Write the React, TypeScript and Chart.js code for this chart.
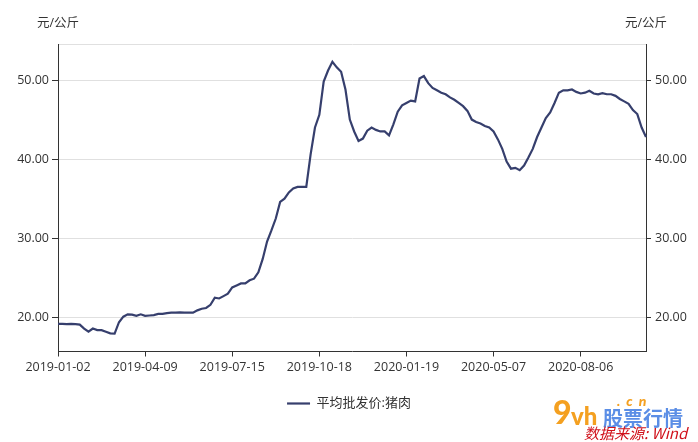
import React, { useEffect, useRef } from "react";
import { Chart, registerables } from "chart.js";

Chart.register(...registerables);

// ---- data ----
const tickDates = ["2019-01-02", "2019-04-09", "2019-07-15", "2019-10-18", "2020-01-19", "2020-05-07", "2020-08-06"];
const STEP = 20; // categories between labelled ticks
const seriesName = "平均批发价:猪肉";
const unitLabel = "元/公斤";
const yTickValues = [20, 30, 40, 50];
const Y_MIN = 15.7;
const Y_MAX = 54.55;

const priceValues = [
  19.2, 19.2, 19.15, 19.2, 19.15, 19.1, 18.6, 18.2, 18.6, 18.4,
  18.4, 18.2, 18.0, 17.95, 19.4, 20.1, 20.4, 20.35, 20.2, 20.4,
  20.2, 20.25, 20.3, 20.45, 20.45, 20.55, 20.6, 20.6, 20.65, 20.6,
  20.6, 20.6, 20.9, 21.1, 21.2, 21.6, 22.5, 22.4, 22.7, 23.0,
  23.8, 24.05, 24.3, 24.3, 24.7, 24.9, 25.7, 27.4, 29.6, 31.0,
  32.5, 34.6, 35.0, 35.8, 36.3, 36.5, 36.5, 36.5, 40.6, 44.0,
  45.6, 49.8, 51.2, 52.3, 51.6, 51.05, 48.8, 45.0, 43.5, 42.3,
  42.6, 43.6, 44.0, 43.7, 43.5, 43.5, 43.0, 44.4, 46.0, 46.8,
  47.1, 47.4, 47.3, 50.2, 50.5, 49.6, 49.0, 48.7, 48.4, 48.2,
  47.8, 47.5, 47.1, 46.7, 46.1, 45.0, 44.7, 44.5, 44.2, 44.0,
  43.5, 42.5, 41.3, 39.7, 38.8, 38.9, 38.6, 39.2, 40.2, 41.3,
  42.8, 44.0, 45.2, 45.9, 47.1, 48.4, 48.7, 48.7, 48.8, 48.5,
  48.3, 48.4, 48.65, 48.3, 48.2, 48.35, 48.2, 48.2, 48.0, 47.6,
  47.3, 47.0, 46.2, 45.7, 44.0, 42.8,
];

function buildLabels(): string[] {
  const ms = tickDates.map((d) => Date.parse(d + "T00:00:00Z"));
  const out: string[] = [];
  for (let i = 0; i < priceValues.length; i++) {
    const k = Math.min(Math.floor(i / STEP), ms.length - 2);
    const t = ms[k] + ((ms[k + 1] - ms[k]) * (i - k * STEP)) / STEP;
    out.push(new Date(t).toISOString().slice(0, 10));
  }
  return out;
}

const FONT_FAMILY = '"Open Sans", "Noto Sans CJK SC", sans-serif';
const TEXT_COLOR = "#333333";
const AXIS_COLOR = "#333333";
const GRID_COLOR = "#e0e0e0";
const LINE_COLOR = "#363f6d";

const unitPlugin = {
  id: "unitLabels",
  afterDraw(chart: any) {
    const ctx = chart.ctx;
    const { left, right } = chart.chartArea;
    ctx.save();
    ctx.font = `12.5px ${FONT_FAMILY}`;
    ctx.fillStyle = TEXT_COLOR;
    ctx.textAlign = "center";
    ctx.textBaseline = "middle";
    ctx.fillText(unitLabel, left, 23);
    ctx.fillText(unitLabel, right, 23);
    ctx.restore();
  },
};

export default function App() {
  const canvasRef = useRef<HTMLCanvasElement | null>(null);

  useEffect(() => {
    if (!canvasRef.current) return;
    const font = { family: FONT_FAMILY, size: 12.5 };
    const fmt = (v: any) => (Number(v) === Y_MAX ? "" : Number(v).toFixed(2));
    const chart = new Chart(canvasRef.current, {
      type: "line",
      data: {
        labels: buildLabels(),
        datasets: [
          {
            label: seriesName,
            data: priceValues,
            borderColor: LINE_COLOR,
            backgroundColor: LINE_COLOR,
            borderWidth: 2.2,
            pointRadius: 0,
            tension: 0,
            yAxisID: "y",
          },
        ],
      },
      options: {
        animation: false,
        responsive: false,
        maintainAspectRatio: false,
        layout: { padding: { top: 44, left: 0, right: 0, bottom: 22 } },
        plugins: {
          legend: {
            position: "bottom",
            labels: {
              usePointStyle: true,
              pointStyle: "line",
              pointStyleWidth: 23,
              boxHeight: 13,
              padding: 10,
              color: TEXT_COLOR,
              font: { family: FONT_FAMILY, size: 13 },
            },
          },
          tooltip: { enabled: false },
        },
        scales: {
          x: {
            type: "category",
            offset: false,
            grid: { display: true, drawOnChartArea: false, drawTicks: true, tickLength: 5, color: AXIS_COLOR },
            border: { display: true, color: AXIS_COLOR, width: 1 },
            ticks: { autoSkip: false, maxRotation: 0, minRotation: 0, padding: 3, color: TEXT_COLOR, font },
            afterBuildTicks: (s: any) => {
              s.ticks = s.ticks.filter((t: any) => t.value % STEP === 0);
            },
            afterFit: (s: any) => {
              s.height = 35.5;
            },
          },
          y: {
            type: "linear",
            position: "left",
            min: Y_MIN,
            max: Y_MAX,
            afterBuildTicks: (s: any) => {
              s.ticks = [...yTickValues, Y_MAX].map((v) => ({ value: v }));
            },
            ticks: { callback: fmt, padding: 3, color: TEXT_COLOR, font },
            grid: {
              color: GRID_COLOR,
              tickLength: 6,
              tickColor: (c: any) => (c.tick && c.tick.value === Y_MAX ? "rgba(0,0,0,0)" : AXIS_COLOR),
            },
            border: { display: true, color: AXIS_COLOR, width: 1 },
            afterFit: (s: any) => {
              s.width = 58;
            },
          },
          y1: {
            type: "linear",
            position: "right",
            min: Y_MIN,
            max: Y_MAX,
            afterBuildTicks: (s: any) => {
              s.ticks = yTickValues.map((v) => ({ value: v }));
            },
            ticks: { callback: fmt, padding: 4, color: TEXT_COLOR, font },
            grid: { display: true, drawOnChartArea: false, tickLength: 5, color: AXIS_COLOR },
            border: { display: true, color: AXIS_COLOR, width: 1 },
            afterFit: (s: any) => {
              s.width = 52;
            },
          },
        },
      },
      plugins: [unitPlugin],
    } as any);
    return () => chart.destroy();
  }, []);

  return (
    <div style={{ position: "fixed", left: 0, top: 0, width: 698, height: 442, background: "#fff", overflow: "hidden" }}>
      <canvas ref={canvasRef} width={698} height={442} style={{ display: "block" }} />
      <div style={{ position: "absolute", left: 553, top: 396, fontFamily: "Lato, sans-serif", fontWeight: 900, color: "#f4a020", fontSize: 32, lineHeight: "32px" }}>9</div>
      <div style={{ position: "absolute", left: 571, top: 404, fontFamily: "Lato, sans-serif", fontWeight: 900, color: "#f4a020", fontSize: 24, lineHeight: "24px" }}>vh</div>
      <div style={{ position: "absolute", left: 617, top: 394, fontFamily: "Lato, sans-serif", fontWeight: 900, fontStyle: "italic", color: "#f4a020", fontSize: 14, lineHeight: "14px", letterSpacing: 6 }}>.cn</div>
      <div style={{ position: "absolute", left: 603, top: 407, fontFamily: '"Noto Sans CJK SC", sans-serif', fontWeight: 700, color: "#5b8ee6", fontSize: 20, lineHeight: "22px", whiteSpace: "nowrap" }}>股票行情</div>
      <div style={{ position: "absolute", left: 584, top: 424, fontFamily: '"Noto Sans CJK SC", sans-serif', fontStyle: "italic", color: "#d0101a", fontSize: 15, lineHeight: "17px", whiteSpace: "nowrap" }}>数据来源: Wind</div>
    </div>
  );
}
